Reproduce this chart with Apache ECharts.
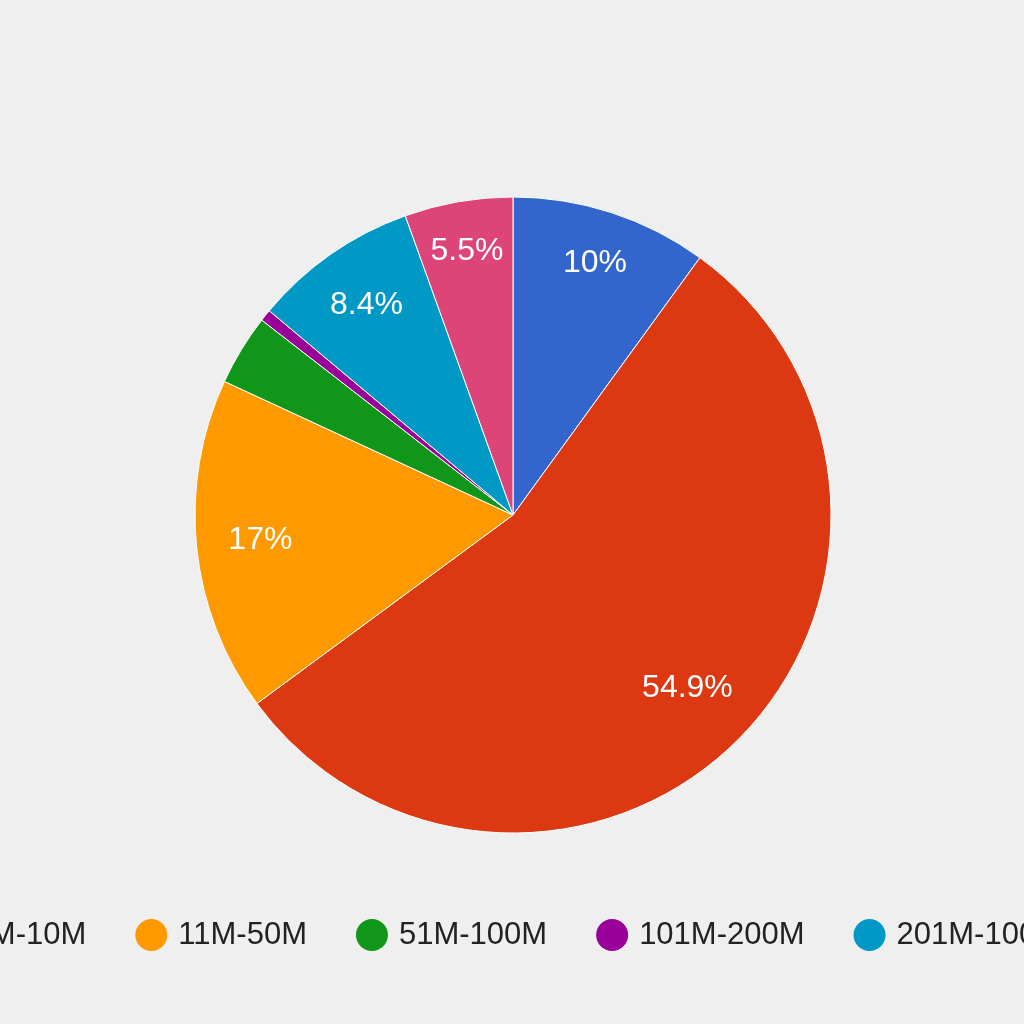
<!DOCTYPE html>
<html>
<head>
<meta charset="utf-8">
<script src="https://cdn.jsdelivr.net/npm/echarts@6/dist/echarts.min.js"></script>
<style>
html,body{margin:0;padding:0;background:#efefef;overflow:hidden;}
#main{width:1024px;height:1024px;}
</style>
</head>
<body>
<div id="main"></div>
<script>
const categories = ['0-1M', '1M-10M', '11M-50M', '51M-100M', '101M-200M', '201M-1000M', '1000M+'];
const values = [10, 54.9, 17, 3.6, 0.6, 8.4, 5.5];
const colors = ['#3366cc', '#dc3912', '#ff9900', '#109618', '#990099', '#0099c6', '#dd4477'];

const CX = 513, CY = 515, R = 318;
const LABEL_R = 287;
const FONT = '"Liberation Sans", Arial, sans-serif';
const FS = 31;

const chart = echarts.init(document.getElementById('main'));
chart.setOption({
  backgroundColor: '#efefef',
  color: colors,
  animation: false,
  legend: {
    orient: 'horizontal',
    left: -233,
    top: 919,
    width: 1800,
    padding: 0,
    icon: 'circle',
    itemWidth: 32,
    itemHeight: 32,
    itemGap: 49,
    itemStyle: { borderWidth: 0 },
    textStyle: { fontFamily: FONT, fontSize: FS, color: '#222222', padding: [0, 0, 0, 6] },
    data: categories
  },
  series: [{
    type: 'pie',
    center: [CX, CY],
    radius: [0, R],
    startAngle: 90,
    clockwise: true,
    avoidLabelOverlap: false,
    itemStyle: { borderColor: '#ffffff', borderWidth: 1 },
    emphasis: { scale: false },
    label: {
      show: true,
      position: 'inside',
      color: '#ffffff',
      fontFamily: FONT,
      fontSize: 32,
      formatter: function (p) {
        return p.percent < 5 ? '' : (+p.percent.toFixed(1)) + '%';
      }
    },
    labelLine: { show: false },
    labelLayout: function (params) {
      const lr = params.labelRect;
      if (!lr || lr.width === 0) return {};
      const lx = lr.x + lr.width / 2, ly = lr.y + lr.height / 2;
      const dx = lx - CX, dy = ly - CY;
      const d = Math.sqrt(dx * dx + dy * dy) || 1;
      const ux = dx / d, uy = dy / d;
      const a = lr.width / 2, b = FS * 0.36;
      const p = Math.abs(ux) * a + Math.abs(uy) * b;
      const t = -p + Math.sqrt(p * p - (a * a + b * b - LABEL_R * LABEL_R));
      return { x: CX + t * ux, y: CY + t * uy };
    },
    data: categories.map((c, i) => ({ name: c, value: values[i] }))
  }]
});
</script>
</body>
</html>
